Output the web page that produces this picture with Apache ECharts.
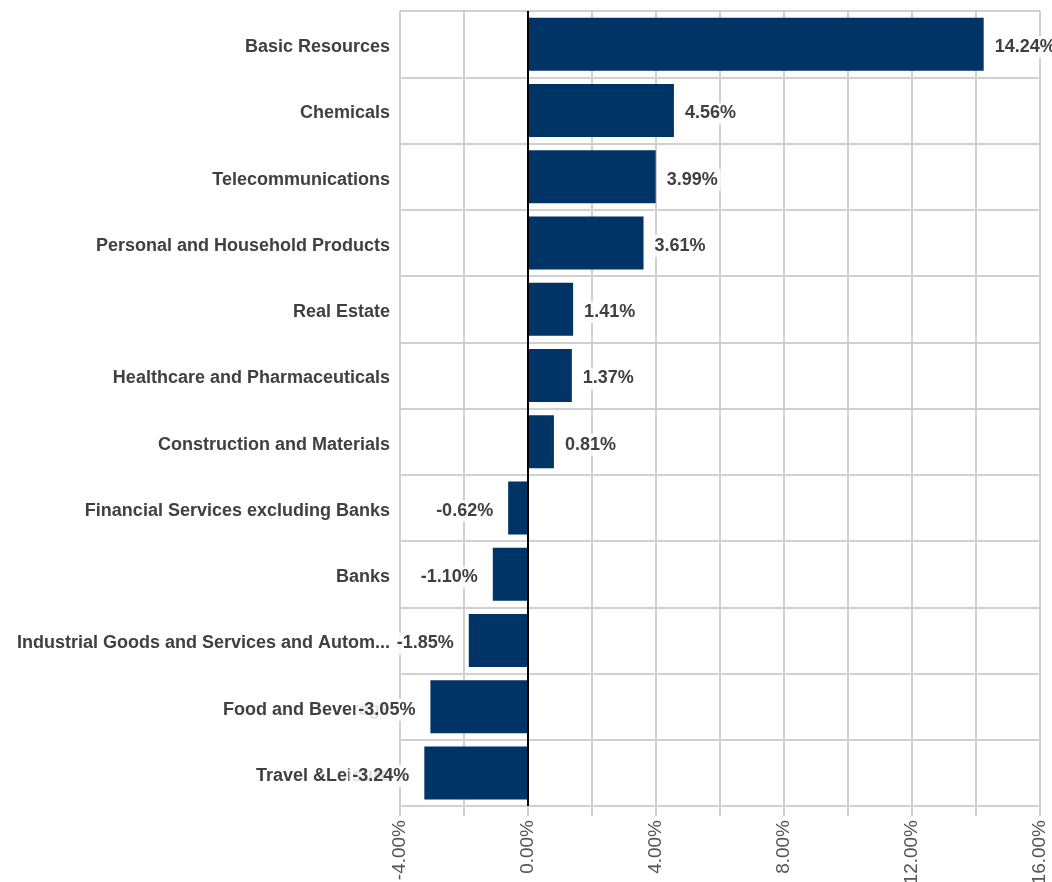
<!DOCTYPE html>
<html><head><meta charset="utf-8">
<script src="https://cdn.jsdelivr.net/npm/echarts@6/dist/echarts.min.js"></script>
<style>html,body{margin:0;padding:0;background:#fff}#c{width:1052px;height:882px}</style>
</head><body><div id="c"></div>
<script>
const categories = ["Basic Resources","Chemicals","Telecommunications","Personal and Household Products","Real Estate","Healthcare and Pharmaceuticals","Construction and Materials","Financial Services excluding Banks","Banks","Industrial Goods and Services and Autom...","Food and Beverage","Travel &Leisure"];
const values = [14.24,4.56,3.99,3.61,1.41,1.37,0.81,-0.62,-1.10,-1.85,-3.05,-3.24];
const xMin = -4, xMax = 16, xStep = 2;

const chart = echarts.init(document.getElementById('c'));
const grid = '#d0d0d0';
const font = 'Liberation Sans, Arial, sans-serif';
const notLast = (i)=> i < categories.length;
chart.setOption({
  animation:false,
  grid:{left:400,right:12,top:11,bottom:76,containLabel:false,outerBoundsMode:'none'},
  xAxis:{type:'value',min:xMin,max:xMax,interval:xStep,
    axisLine:{show:false},
    axisTick:{show:true,length:10,lineStyle:{color:grid,width:2}},
    splitLine:{show:true,lineStyle:{color:grid,width:2}},
    axisLabel:{rotate:90,margin:14,color:'#555',fontSize:19,fontFamily:font,
      formatter:v=> (Math.round(v)%4===0 ? v.toFixed(2)+'%' : '')}},
  yAxis:{type:'category',data:categories,inverse:true,
    axisLine:{show:false},
    axisTick:{show:true,length:12,interval:notLast,lineStyle:{color:grid,width:2}},
    splitLine:{show:true,interval:notLast,lineStyle:{color:grid,width:2}},
    axisLabel:{margin:10,color:'#404040',fontSize:18,fontWeight:'bold',fontFamily:font,
      verticalAlign:'top',lineHeight:6}},
  series:[{type:'bar',barCategoryGap:'20%',
    itemStyle:{color:'#003366'},
    data:values.map(v=>({value:v,label:{position:v>=0?'right':'left',distance:v>=0?8:12}})),
    label:{show:true,color:'#404040',fontSize:18,fontWeight:'bold',fontFamily:font,offset:[0,3],
      backgroundColor:'rgba(255,255,255,0.85)',padding:[3,3,1,3],
      formatter:p=>p.value.toFixed(2)+'%'},
    markLine:{silent:true,symbol:'none',label:{show:false},
      lineStyle:{color:'#000',width:2,type:'solid'},data:[{xAxis:0}]}
  }]
});
</script></body></html>
